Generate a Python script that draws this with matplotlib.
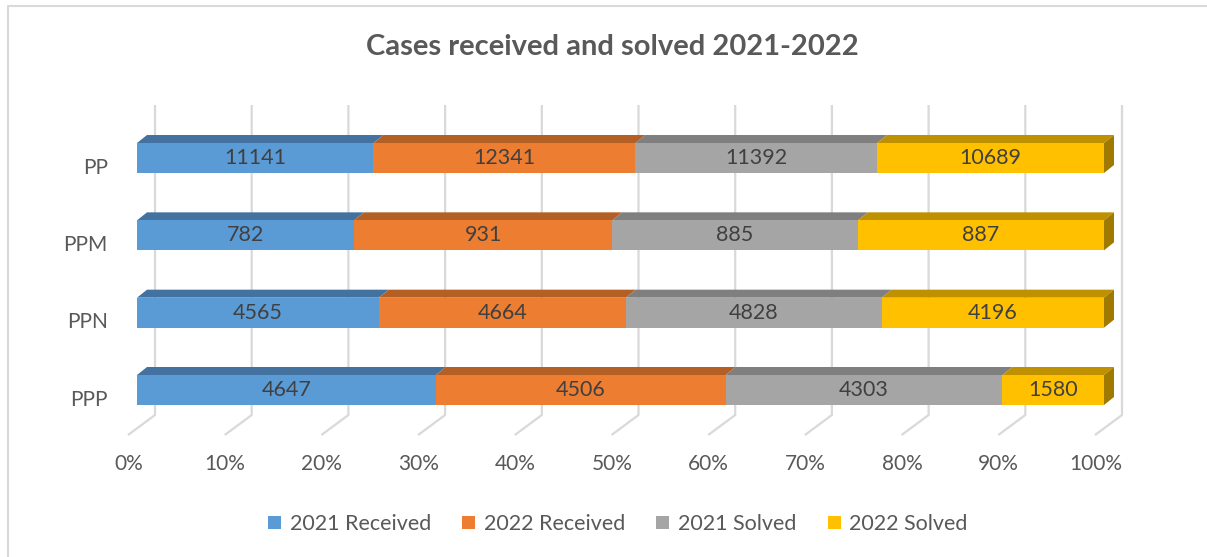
import numpy as np
import matplotlib
matplotlib.use('Agg')
from matplotlib import pyplot as plt
from matplotlib.patches import Polygon, Patch
from matplotlib.transforms import ScaledTranslation

# --
categories = ['PPP', 'PPN', 'PPM', 'PP']  # bottom to top
series = ['2021 Received', '2022 Received', '2021 Solved', '2022 Solved']
values = {
    '2021 Received': [4647, 4565, 782, 11141],
    '2022 Received': [4506, 4664, 931, 12341],
    '2021 Solved':   [4303, 4828, 885, 11392],
    '2022 Solved':   [1580, 4196, 887, 10689],
}
xticks = np.arange(0, 101, 10)
xtick_labels = ['{}%'.format(t) for t in xticks]

front_cols = ['#5B9BD5', '#ED7D31', '#A5A5A5', '#FFC000']
top_cols = ['#4472A0', '#B45F24', '#7F7F7F', '#BF9000']
side_col = '#A07A00'
grid_col = '#D9D9D9'
txt_col = '#595959'
lbl_col = '#404040'
fName = 'Lato'
# --

W, H, DPI = 1207, 557, 100
fig = plt.figure(figsize=(W/DPI, H/DPI), dpi=DPI)
px = 1.0/DPI  # inches per pixel

# axes frame: x 0..100 maps to front face of the bars
x0_px, x1_px = 137, 1104
ytop_px, ybot_px = 105, 435
ax = fig.add_axes([x0_px/W, (H-ybot_px)/H, (x1_px-x0_px)/W, (ybot_px-ytop_px)/H])

cat_step = 77.33      # px between categories
base_py = 390.0       # px of bottom category centre
ax.set_xlim(0, 100)
ax.set_ylim((base_py-ybot_px)/cat_step, (base_py-ytop_px)/cat_step)
ux = 100.0/(x1_px-x0_px)  # data units per pixel
uy = 1.0/cat_step

for s in ax.spines.values():
    s.set_visible(False)

# gridlines: back wall + floor
yb_back = (base_py-415)/cat_step
y_lo, y_hi = ax.get_ylim()
for t in xticks:
    xb = t + 18*ux
    xf = t - 9*ux
    ax.plot([xb, xb, xf], [y_hi, yb_back, y_lo], color=grid_col, lw=1.6,
            zorder=0, clip_on=False, solid_capstyle='butt')

# stacked 100% bars
ypos = np.arange(len(categories))
totals = np.sum([values[s] for s in series], axis=0)
bh = 30*uy
dx, dy = 10*ux, 8*uy
left = np.zeros(len(categories))
for i, s in enumerate(series):
    v = np.array(values[s], dtype=float)
    pct = v/totals*100
    bars = ax.barh(ypos, pct, left=left, height=bh, color=front_cols[i],
                   edgecolor='none', zorder=3)
    ax.bar_label(bars, labels=[str(int(a)) for a in v], label_type='center',
                 fontsize=15.5, color=lbl_col, family=fName)
    for y, l, w in zip(ypos, left, pct):
        yt = y + bh/2
        ax.add_patch(Polygon([(l, yt), (l+w, yt), (l+w+dx, yt+dy), (l+dx, yt+dy)],
                             closed=True, facecolor=top_cols[i], edgecolor='none',
                             zorder=2, clip_on=False))
    left = left + pct

# right side of the last segment
for y in ypos:
    yt, yb = y + bh/2, y - bh/2
    ax.add_patch(Polygon([(100, yb), (100, yt), (100+dx, yt+dy), (100+dx, yb+dy)],
                         closed=True, facecolor=side_col, edgecolor='none',
                         zorder=2, clip_on=False))

# ticks
ax.set_xticks(xticks)
ax.set_xticklabels(xtick_labels, fontsize=15, color=txt_col, family=fName)
ax.set_yticks(ypos)
ax.set_yticklabels(categories, fontsize=15, color=txt_col, family=fName)
ax.tick_params(axis='both', length=0)
ax.tick_params(axis='x', pad=14)
ax.tick_params(axis='y', pad=21)
for lab in ax.get_xticklabels():
    lab.set_transform(lab.get_transform() + ScaledTranslation(-8.5*px, 0, fig.dpi_scale_trans))
for lab in ax.get_yticklabels():
    lab.set_transform(lab.get_transform() + ScaledTranslation(0, -7.5*px, fig.dpi_scale_trans))

# title
fig.text(612/W, 1-55/H, 'Cases received and solved 2021-2022', ha='center', va='baseline',
         fontsize=21, fontweight='bold', color=txt_col, family=fName)

# legend
handles = [Patch(facecolor=c, edgecolor='none', label=s) for c, s in zip(front_cols, series)]
fig.legend(handles=handles, loc='center', bbox_to_anchor=(618/W, 1-524/H), ncol=4,
           frameon=False, prop={'family': fName, 'size': 15.5}, labelcolor=txt_col,
           handlelength=0.6, handleheight=0.6, handletextpad=0.4, columnspacing=1.45)

# chart border (left / top)
fig.add_artist(plt.Line2D([8/W, 8/W, 1], [0, 1-6/H, 1-6/H], color=grid_col, lw=1.5,
                          transform=fig.transFigure))

plt.savefig('out.png', dpi=DPI)
